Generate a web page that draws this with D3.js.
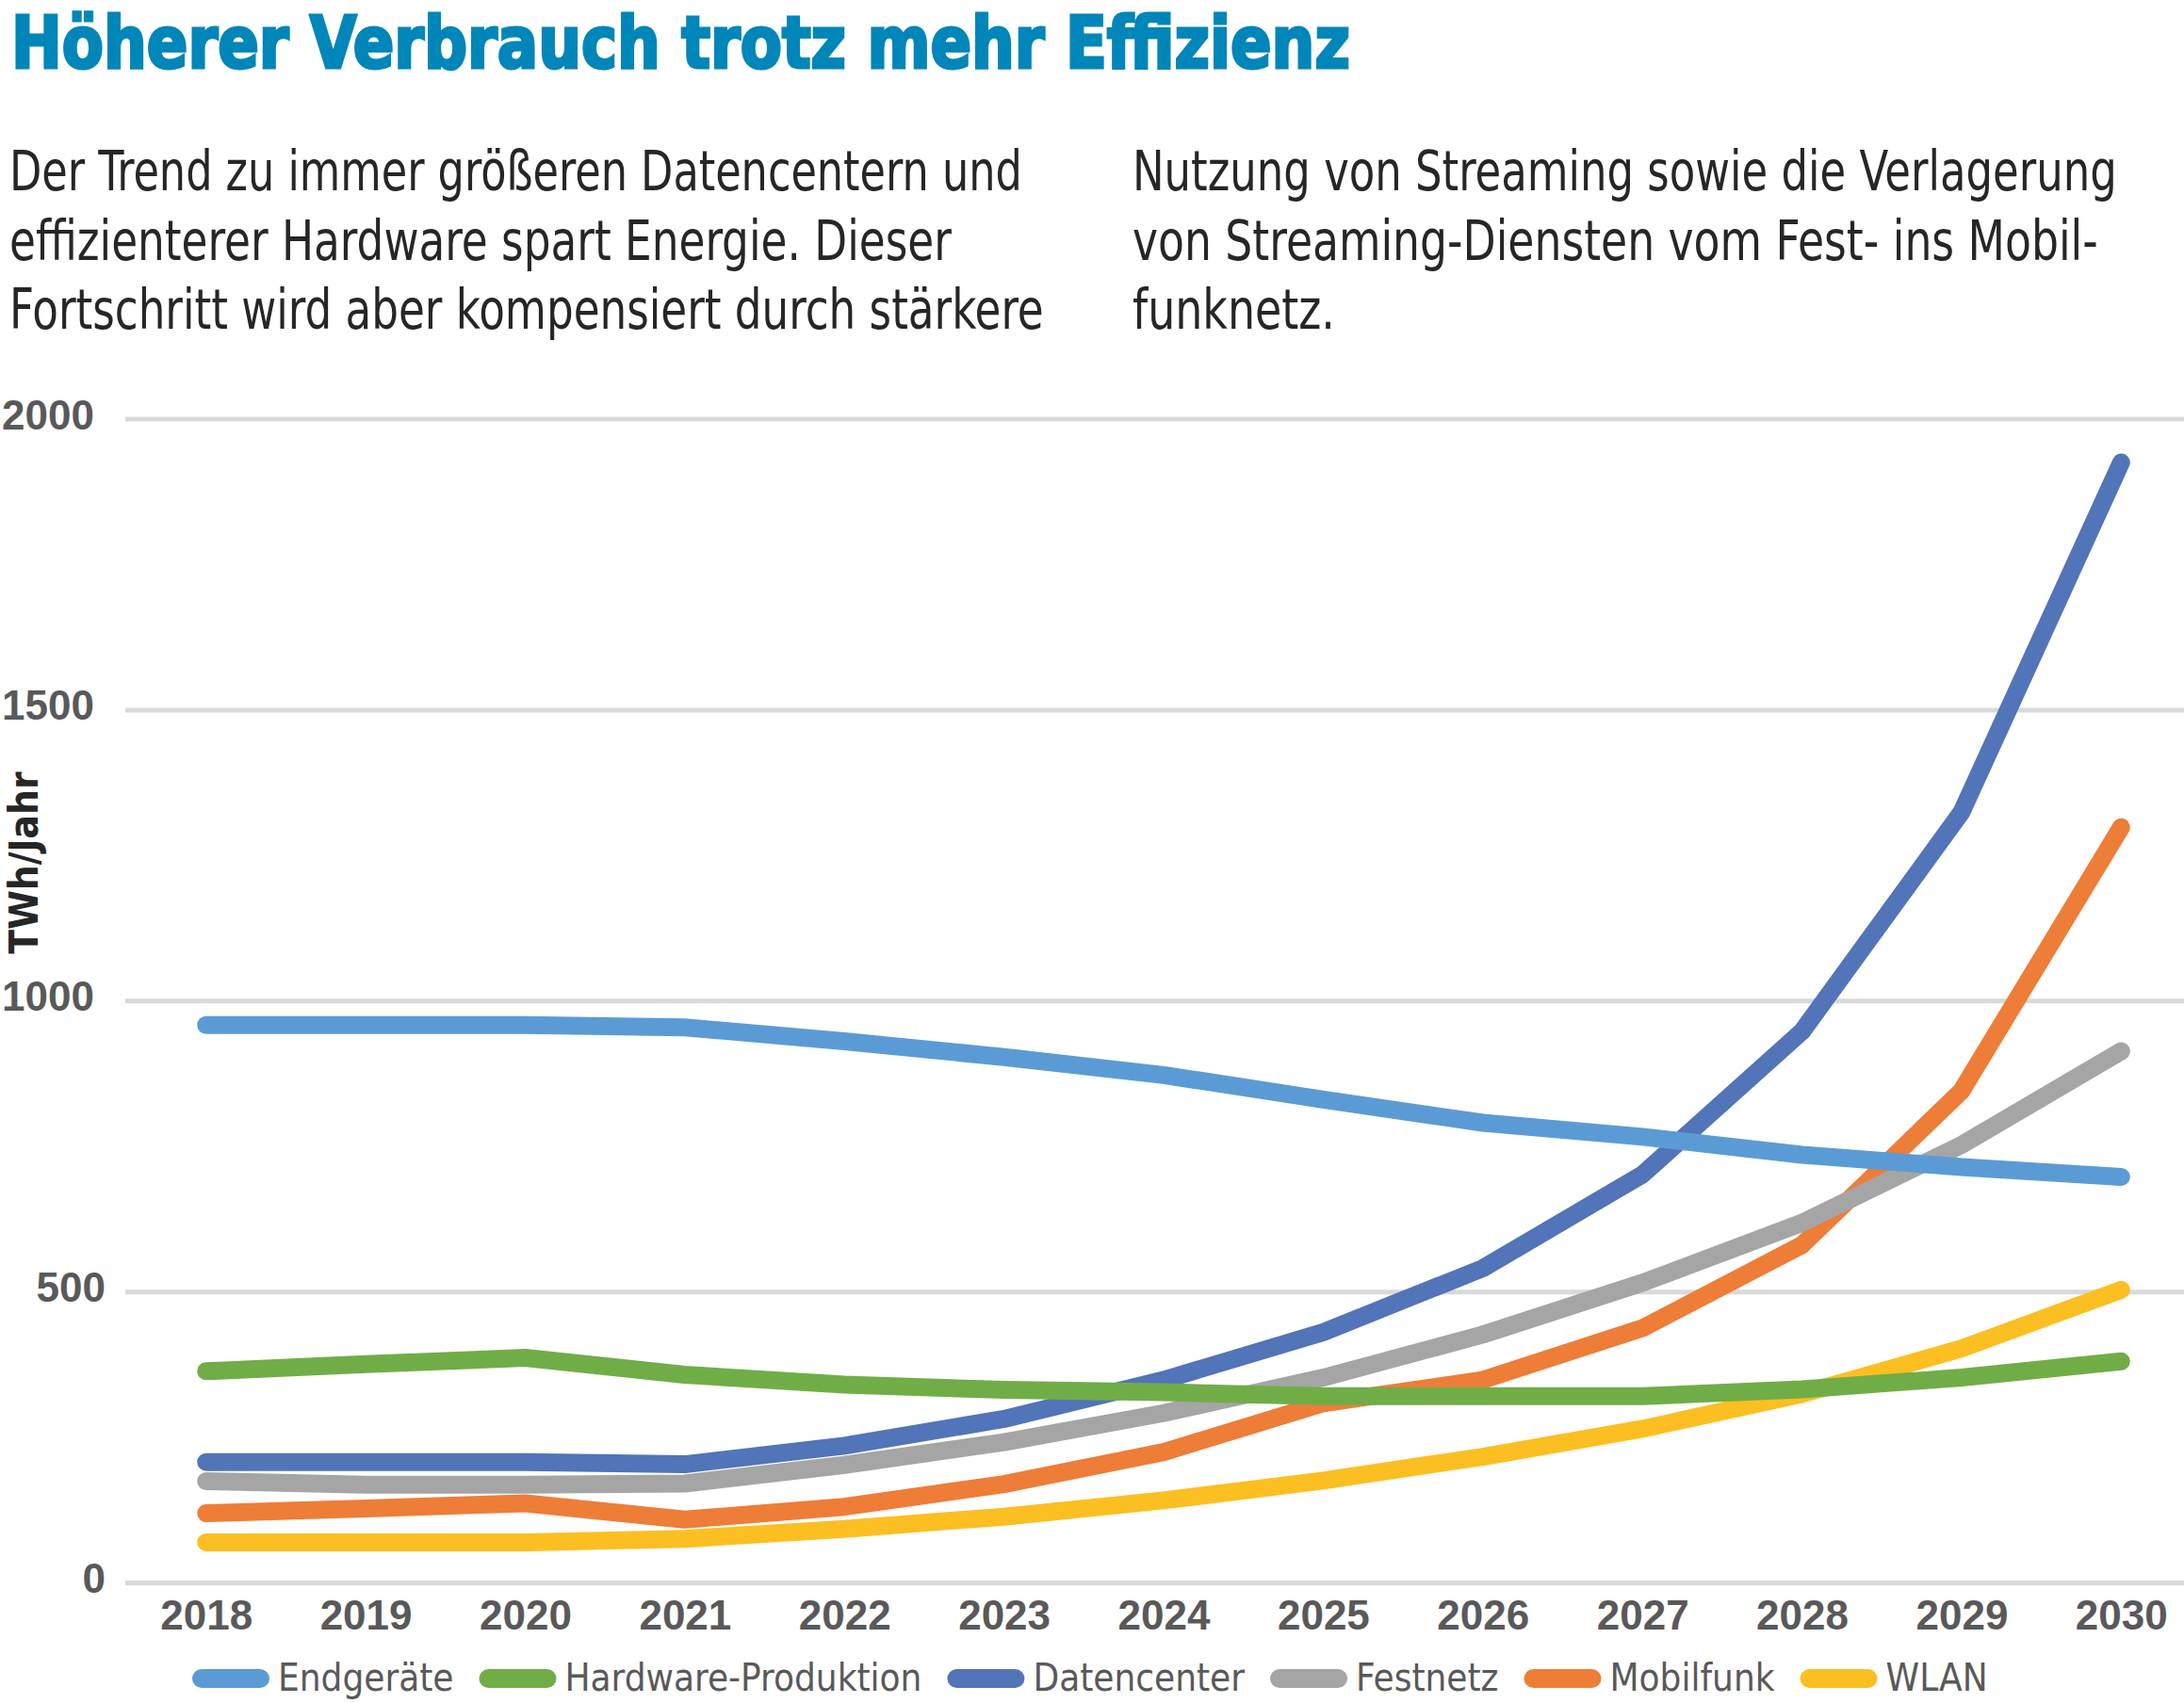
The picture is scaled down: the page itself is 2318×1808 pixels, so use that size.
<!DOCTYPE html>
<html lang="de">
<head>
<meta charset="UTF-8">
<title>Höherer Verbrauch trotz mehr Effizienz</title>
<script src="https://cdn.jsdelivr.net/npm/d3@7"></script>
<style>
  body { margin: 0; background: #fff; }
  svg { display: block; }
</style>
</head>
<body>
<svg id="chart" width="2318" height="1808"></svg>
<script>
// --- data (TWh/Jahr) ---
const years = [2018, 2019, 2020, 2021, 2022, 2023, 2024, 2025, 2026, 2027, 2028, 2029, 2030];
const seriesNames = ["Endgeräte", "Hardware-Produktion", "Datencenter", "Festnetz", "Mobilfunk", "WLAN"];
const endgeraete   = [958, 958, 958, 954, 930, 903, 872, 830, 790, 766, 735, 714, 697];
const hardware     = [363, 375, 386, 357, 340, 331, 327, 320, 320, 320, 332, 352, 380];
const datencenter  = [207, 207, 207, 203, 235, 281, 348, 430, 540, 701, 947, 1324, 1925];
const festnetz     = [174, 168, 168, 170, 202, 241, 291, 352, 426, 515, 618, 752, 913];
const mobilfunk    = [119, 127, 136, 108, 130, 169, 224, 308, 348, 437, 580, 845, 1298];
const wlan         = [69, 69, 69, 75, 92, 113, 141, 175, 216, 264, 324, 402, 503];
const yTicks = [0, 500, 1000, 1500, 2000];

const titleText = "Höherer Verbrauch trotz mehr Effizienz";
const introLeft = [
  "Der Trend zu immer größeren Datencentern und",
  "effizienterer Hardware spart Energie. Dieser",
  "Fortschritt wird aber kompensiert durch stärkere"
];
const introRight = [
  "Nutzung von Streaming sowie die Verlagerung",
  "von Streaming-Diensten vom Fest- ins Mobil-",
  "funknetz."
];
const yTitle = "TWh/Jahr";

const colors = ["#5b9bd5", "#70ad47", "#5274b8", "#a5a5a5", "#ee7d38", "#fbbf22"];
const values = [endgeraete, hardware, datencenter, festnetz, mobilfunk, wlan];

const W = 2318, H = 1808;
const narrow = "'Liberation Sans Narrow', 'DejaVu Sans Condensed', Roboto, sans-serif";
const plain = "'Liberation Sans', Arial, sans-serif";

// measured line widths of the set text; the fallback font is squeezed to fit them
const introLeftWidths = [1075, 1000, 1098];
const introRightWidths = [1045, 1025, 215];

const svg = d3.select("#chart");
svg.append("rect").attr("width", W).attr("height", H).attr("fill", "#fff");

// squeeze a text horizontally so it spans `width` px from (x0, y0)
function fitText(t, x0, y0, width) {
  const natural = t.node().getComputedTextLength();
  const sx = Math.min(1, width / natural);
  t.attr("x", 0).attr("y", 0)
    .attr("transform", `translate(${x0},${y0}) scale(${sx},1)`);
}

// title
const title = svg.append("text")
  .attr("font-family", narrow)
  .attr("font-weight", "bold")
  .attr("font-size", 76)
  .attr("fill", "#0086b9")
  .attr("stroke", "#0086b9")
  .attr("stroke-width", 3)
  .text(titleText);
fitText(title, 12, 72, 1421);

// intro text, two columns
function introColumn(lines, widths, x0) {
  const g = svg.append("g");
  lines.forEach((d, i) => {
    const t = g.append("text")
      .attr("font-family", narrow)
      .attr("font-size", 58)
      .attr("fill", "#262626")
      .text(d);
    fitText(t, x0, 202 + i * 73.5, widths[i]);
  });
}
introColumn(introLeft, introLeftWidths, 10);
introColumn(introRight, introRightWidths, 1202);

// scales
const x = d3.scalePoint().domain(years).range([134, 2336]).padding(0.5);
const y = d3.scaleLinear().domain([0, 2000]).range([1680, 444.6]);

// gridlines
svg.append("g")
  .attr("transform", "translate(133,0)")
  .call(d3.axisLeft(y).tickValues(yTicks).tickSize(-(W - 133)).tickFormat(""))
  .call(g => g.select(".domain").remove())
  .call(g => g.selectAll("line").attr("stroke", "#d9d9d9").attr("stroke-width", 5));

// y labels (the 4-digit ones sit flush with the left edge in the original)
svg.append("g").selectAll("text")
  .data(yTicks)
  .join("text")
  .attr("x", d => String(d).length > 3 ? 2 : 112)
  .attr("text-anchor", d => String(d).length > 3 ? "start" : "end")
  .attr("y", d => y(d) + 11)
  .attr("font-family", plain)
  .attr("font-weight", "bold")
  .attr("font-size", 44)
  .attr("fill", "#595959")
  .text(d => d);

// y title
svg.append("text")
  .attr("transform", "translate(40,916) rotate(-90)")
  .attr("text-anchor", "middle")
  .attr("font-family", narrow)
  .attr("font-weight", "bold")
  .attr("font-size", 42)
  .attr("fill", "#262626")
  .text(yTitle);

// x axis labels
svg.append("g")
  .attr("transform", "translate(0,1680)")
  .call(d3.axisBottom(x).tickSize(0).tickFormat(d3.format("d")))
  .call(g => g.select(".domain").remove())
  .call(g => g.selectAll("text")
    .attr("y", 50).attr("dy", 0)
    .attr("font-family", plain)
    .attr("font-weight", "bold")
    .attr("font-size", 44)
    .attr("fill", "#595959"));

// lines, drawn last series first so Endgeräte ends on top
const line = d3.line().x((d, i) => x(years[i])).y(d => y(d));
const order = d3.range(seriesNames.length).reverse();
svg.append("g").selectAll("path")
  .data(order)
  .join("path")
  .attr("d", k => line(values[k]))
  .attr("fill", "none")
  .attr("stroke", k => colors[k])
  .attr("stroke-width", 19)
  .attr("stroke-linecap", "round")
  .attr("stroke-linejoin", "round");

// legend
const legend = svg.append("g");
let lx = 204;
seriesNames.forEach((name, k) => {
  legend.append("rect")
    .attr("x", lx).attr("y", 1772)
    .attr("width", 82).attr("height", 20).attr("rx", 10)
    .attr("fill", colors[k]);
  const t = legend.append("text")
    .attr("x", lx + 91).attr("y", 1795)
    .attr("font-family", narrow)
    .attr("font-size", 40)
    .attr("fill", "#595959")
    .text(name);
  lx += 91 + t.node().getComputedTextLength() + 27;
});
</script>
</body>
</html>
